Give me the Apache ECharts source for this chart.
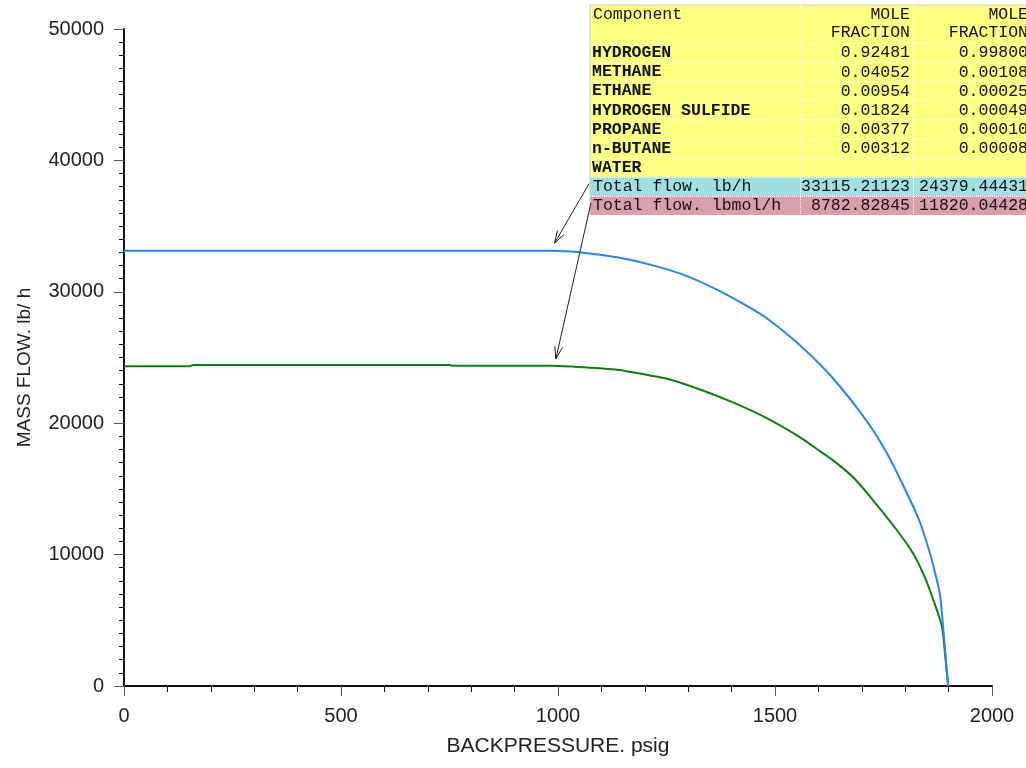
<!DOCTYPE html>
<html>
<head>
<meta charset="utf-8">
<script src="https://cdn.jsdelivr.net/npm/echarts@6/dist/echarts.min.js"></script>
<style>html,body{margin:0;padding:0;background:#fff}#c{width:1026px;height:768px}</style>
</head>
<body>
<div id="c"></div>
<script>
// ---- data ----
const blueX = [0, 500, 982, 1058, 1136, 1212, 1288, 1366, 1442, 1482, 1558, 1634, 1712, 1758, 1804, 1834, 1857, 1869, 1880, 1887, 1892, 1899];
const blueY = [33115, 33115, 33115, 32979, 32622, 32067, 31307, 30167, 28799, 27964, 25912, 23404, 20137, 17705, 14666, 12462, 10106, 8587, 6991, 4635, 2736, 0];
const greenX = [0, 150, 160, 750, 760, 982, 1058, 1136, 1212, 1258, 1327, 1403, 1482, 1558, 1604, 1634, 1680, 1726, 1781, 1818, 1846, 1873, 1885, 1892, 1899];
const greenY = [24340, 24340, 24420, 24420, 24370, 24379, 24263, 24065, 23632, 23328, 22568, 21581, 20365, 18921, 17857, 17173, 15881, 14134, 11854, 10106, 8207, 5775, 4483, 2356, 0];

const xTicks = [0, 500, 1000, 1500, 2000];
const yTicks = [0, 10000, 20000, 30000, 40000, 50000];

const tableComponents = ['HYDROGEN', 'METHANE', 'ETHANE', 'HYDROGEN SULFIDE', 'PROPANE', 'n-BUTANE', 'WATER'];
const tableCol1 = ['0.92481', '0.04052', '0.00954', '0.01824', '0.00377', '0.00312', ''];
const tableCol2 = ['0.99800', '0.00108', '0.00025', '0.00049', '0.00010', '0.00008', ''];
const totalRows = ['Total flow. lb/h', 'Total flow. lbmol/h'];
const totalCol1 = ['33115.21123', '8782.82845'];
const totalCol2 = ['24379.44431', '11820.04428'];
// arrow tips (data coords) pointing to the two curves
const arrowTips = [[992, 33700], [995, 24890]];

const chart = echarts.init(document.getElementById('c'));
const zip = (xs, ys) => xs.map((x, i) => [x, ys[i]]);

const option = {
  animation: false,
  backgroundColor: '#fff',
  grid: { left: 124, right: 34, top: 29, bottom: 82 },
  xAxis: {
    type: 'value', min: xTicks[0], max: xTicks[xTicks.length - 1], interval: xTicks[1] - xTicks[0],
    name: 'BACKPRESSURE. psig', nameLocation: 'middle', nameGap: 50,
    nameTextStyle: { fontFamily: '"Liberation Sans", Arial', fontSize: 21, color: '#222' },
    axisLine: { lineStyle: { color: '#111', width: 2 } },
    axisTick: { show: true, length: 10, inside: false, lineStyle: { color: '#555', width: 1 } },
    minorTick: { show: true, splitNumber: 5, length: 6, lineStyle: { color: '#111', width: 1 } },
    axisLabel: { margin: 20, fontFamily: '"Liberation Sans", Arial', fontSize: 20, color: '#222', formatter: v => String(v) },
    splitLine: { show: false }
  },
  yAxis: {
    type: 'value', min: yTicks[0], max: yTicks[yTicks.length - 1], interval: yTicks[1] - yTicks[0],
    name: 'MASS FLOW. lb/ h', nameLocation: 'middle', nameGap: 90,
    nameTextStyle: { fontFamily: '"Liberation Sans", Arial', fontSize: 19, color: '#222', padding: [0, 20, 0, 0] },
    axisLine: { show: true, lineStyle: { color: '#111', width: 2 } },
    axisTick: { show: true, length: 10, inside: false, lineStyle: { color: '#555', width: 1 } },
    minorTick: { show: true, splitNumber: 10, length: 5, lineStyle: { color: '#111', width: 1 } },
    axisLabel: { margin: 20, fontFamily: '"Liberation Sans", Arial', fontSize: 20, color: '#222', formatter: v => String(v) },
    splitLine: { show: false }
  },
  series: [
    { type: 'line', data: zip(blueX, blueY), showSymbol: false, smooth: 0.25, lineStyle: { color: '#1E88F5', width: 2 }, z: 3 },
    { type: 'line', data: zip(greenX, greenY), showSymbol: false, smooth: 0.25, lineStyle: { color: '#0B800B', width: 2 }, z: 2 }
  ]
};
chart.setOption(option);

// ---- table (graphic) ----
const els = [];
const mono = '"Liberation Mono", "Courier New", monospace';
const fs = 16.5;
const colX = [590, 800, 913, 1040];
const hdrTop = 5, hdrBot = 43, rowH = 19.1;
const yellow = '#FFFF80', cyan = '#A0E0E0', pink = '#DC9EAF';
const nRows = tableComponents.length;
const yellowBot = hdrBot + nRows * rowH;
els.push({ type: 'rect', shape: { x: colX[0], y: hdrTop, width: colX[3] - colX[0], height: yellowBot - hdrTop }, style: { fill: yellow }, z: 10 });
els.push({ type: 'rect', shape: { x: colX[0], y: yellowBot, width: colX[3] - colX[0], height: rowH }, style: { fill: cyan }, z: 10 });
els.push({ type: 'rect', shape: { x: colX[0], y: yellowBot + rowH, width: colX[3] - colX[0], height: rowH }, style: { fill: pink }, z: 10 });
const totalBot = yellowBot + 2 * rowH;
els.push({ type: 'line', shape: { x1: colX[0], y1: hdrTop, x2: colX[3], y2: hdrTop }, style: { stroke: '#ccc', lineWidth: 1 }, z: 11 });
els.push({ type: 'line', shape: { x1: colX[0], y1: hdrTop, x2: colX[0], y2: totalBot }, style: { stroke: '#ccc', lineWidth: 1 }, z: 11 });
[colX[1], colX[2]].forEach(x => els.push({ type: 'line', shape: { x1: x + 0.5, y1: hdrTop, x2: x + 0.5, y2: totalBot }, style: { stroke: '#fff', lineWidth: 1, lineDash: [1, 1] }, z: 11 }));
const hLines = [hdrBot];
for (let i = 1; i <= nRows + 1; i++) hLines.push(hdrBot + i * rowH);
hLines.forEach(y => els.push({ type: 'line', shape: { x1: colX[0], y1: Math.round(y) + 0.5, x2: colX[3], y2: Math.round(y) + 0.5 }, style: { stroke: '#fff', lineWidth: 1, lineDash: [1, 1] }, z: 11 }));
const txt = (s, x, y, align, bold) => els.push({ type: 'text', x: x, y: y, style: { text: s, font: (bold ? 'bold ' : '') + fs + 'px ' + mono, fill: '#111', textAlign: align, textVerticalAlign: 'middle' }, z: 12 });
txt('Component', 593, 15, 'left', false);
txt('MOLE', colX[2] - 3, 15, 'right', false);
txt('FRACTION', colX[2] - 3, 33, 'right', false);
txt('MOLE', 1028, 15, 'right', false);
txt('FRACTION', 1028, 33, 'right', false);
tableComponents.forEach((c, i) => {
  const y = hdrBot + i * rowH + rowH / 2 + 0.5;
  txt(c, 592, y, 'left', true);
  txt(tableCol1[i], colX[2] - 3, y, 'right', false);
  txt(tableCol2[i], 1028, y, 'right', false);
});
totalRows.forEach((c, i) => {
  const y = yellowBot + i * rowH + rowH / 2 + 0.5;
  txt(c, 593, y, 'left', false);
  txt(totalCol1[i], colX[2] - 3, y, 'right', false);
  txt(totalCol2[i], 1028, y, 'right', false);
});

// ---- arrows ----
const starts = [[589, yellowBot + 7], [591, yellowBot + rowH + 7]];
arrowTips.forEach((t, i) => {
  const p = chart.convertToPixel({ gridIndex: 0 }, t);
  const s = starts[i];
  els.push({ type: 'line', shape: { x1: s[0], y1: s[1], x2: p[0], y2: p[1] }, style: { stroke: '#222', lineWidth: 1 }, z: 12 });
  const ang = Math.atan2(p[1] - s[1], p[0] - s[0]);
  const L = 13, a = 0.3;
  [ang + Math.PI - a, ang + Math.PI + a].forEach(b => {
    els.push({ type: 'line', shape: { x1: p[0], y1: p[1], x2: p[0] + L * Math.cos(b), y2: p[1] + L * Math.sin(b) }, style: { stroke: '#222', lineWidth: 1 }, z: 12 });
  });
});

chart.setOption({ graphic: { elements: els } });
</script>
</body>
</html>
